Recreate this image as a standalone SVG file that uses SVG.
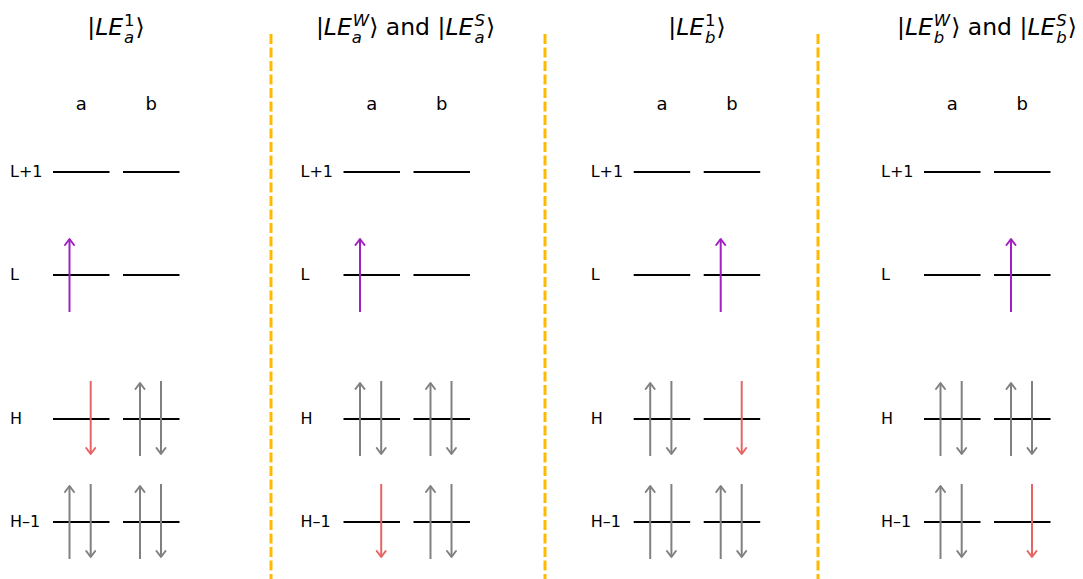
<svg xmlns="http://www.w3.org/2000/svg" width="1083" height="579" viewBox="0 0 1083 579">
<style>
text{font-family:"DejaVu Sans","Liberation Sans",sans-serif;fill:#000}
.title{font-size:23.5px}
.it{font-style:italic}
.ss{font-size:16.5px}
.col{font-size:18px;text-anchor:middle}
.lab{font-size:16px}
.lvl{stroke:#000;stroke-width:2}
.sep{stroke:#ffb900;stroke-width:3;stroke-dasharray:10 3.5}
.g{stroke:#808080;stroke-width:2;marker-end:url(#mg)}
.p{stroke:#a020c0;stroke-width:2;marker-end:url(#mp)}
.r{stroke:#e86464;stroke-width:2;marker-end:url(#mr)}
</style>
<defs>
<marker id="mg" markerUnits="userSpaceOnUse" orient="auto" markerWidth="14" markerHeight="14" refX="0" refY="0" viewBox="-8 -7 10 14" overflow="visible"><path d="M-6,-4.5 L0,0 L-6,4.5" fill="none" stroke="#808080" stroke-width="2" stroke-linejoin="round" stroke-linecap="round"/></marker>
<marker id="mp" markerUnits="userSpaceOnUse" orient="auto" markerWidth="14" markerHeight="14" refX="0" refY="0" viewBox="-8 -7 10 14" overflow="visible"><path d="M-6,-4.5 L0,0 L-6,4.5" fill="none" stroke="#a020c0" stroke-width="2" stroke-linejoin="round" stroke-linecap="round"/></marker>
<marker id="mr" markerUnits="userSpaceOnUse" orient="auto" markerWidth="14" markerHeight="14" refX="0" refY="0" viewBox="-8 -7 10 14" overflow="visible"><path d="M-6,-4.5 L0,0 L-6,4.5" fill="none" stroke="#e86464" stroke-width="2" stroke-linejoin="round" stroke-linecap="round"/></marker>
</defs>
<rect width="1083" height="579" fill="#fff"/>
<g id="separators">
<line class="sep" x1="271" y1="34" x2="271" y2="579"/>
<line class="sep" x1="545" y1="34" x2="545" y2="579"/>
<line class="sep" x1="818" y1="34" x2="818" y2="579"/>
</g>
<g id="panel1">
<text class="title" x="116" y="35" text-anchor="middle">|<tspan class="it">LE</tspan><tspan class="ss" dx="1" dy="-9.5">1</tspan><tspan class="ss it" dx="-10.49" dy="17">a</tspan><tspan dx="1.4" dy="-7.5">⟩</tspan></text>
<text class="col" x="81.3" y="110">a</text><text class="col" x="151.3" y="110">b</text>
<text class="lab" x="10" y="177">L+1</text><text class="lab" x="10" y="280">L</text><text class="lab" x="10" y="424">H</text><text class="lab" x="10" y="527">H–1</text>
<path class="lvl" d="M53,172H109.5M123,172H179.5M53,275H109.5M123,275H179.5M53,419H109.5M123,419H179.5M53,522H109.5M123,522H179.5"/>
</g>
<g id="panel2">
<text class="title" x="405.5" y="35" text-anchor="middle">|<tspan class="it">LE</tspan><tspan class="ss it" dx="1" dy="-9.5">W</tspan><tspan class="ss it" dx="-16.32" dy="17">a</tspan><tspan dx="7.2" dy="-7.5">⟩</tspan> and |<tspan class="it">LE</tspan><tspan class="ss it" dx="1" dy="-9.5">S</tspan><tspan class="ss it" dx="-10.48" dy="17">a</tspan><tspan dx="1.4" dy="-7.5">⟩</tspan></text>
<text class="col" x="371.8" y="110">a</text><text class="col" x="441.8" y="110">b</text>
<text class="lab" x="300.5" y="177">L+1</text><text class="lab" x="300.5" y="280">L</text><text class="lab" x="300.5" y="424">H</text><text class="lab" x="300.5" y="527">H–1</text>
<path class="lvl" d="M343.5,172H400M413.5,172H470M343.5,275H400M413.5,275H470M343.5,419H400M413.5,419H470M343.5,522H400M413.5,522H470"/>
</g>
<g id="panel3">
<text class="title" x="697" y="35" text-anchor="middle">|<tspan class="it">LE</tspan><tspan class="ss" dx="1" dy="-9.5">1</tspan><tspan class="ss it" dx="-10.49" dy="17">b</tspan><tspan dx="1" dy="-7.5">⟩</tspan></text>
<text class="col" x="662" y="110">a</text><text class="col" x="732" y="110">b</text>
<text class="lab" x="590.7" y="177">L+1</text><text class="lab" x="590.7" y="280">L</text><text class="lab" x="590.7" y="424">H</text><text class="lab" x="590.7" y="527">H–1</text>
<path class="lvl" d="M633.7,172H690.2M703.7,172H760.2M633.7,275H690.2M703.7,275H760.2M633.7,419H690.2M703.7,419H760.2M633.7,522H690.2M703.7,522H760.2"/>
</g>
<g id="panel4">
<text class="title" x="987" y="35" text-anchor="middle">|<tspan class="it">LE</tspan><tspan class="ss it" dx="1" dy="-9.5">W</tspan><tspan class="ss it" dx="-16.32" dy="17">b</tspan><tspan dx="6.8" dy="-7.5">⟩</tspan> and |<tspan class="it">LE</tspan><tspan class="ss it" dx="1" dy="-9.5">S</tspan><tspan class="ss it" dx="-10.48" dy="17">b</tspan><tspan dx="1" dy="-7.5">⟩</tspan></text>
<text class="col" x="952.3" y="110">a</text><text class="col" x="1022.3" y="110">b</text>
<text class="lab" x="881" y="177">L+1</text><text class="lab" x="881" y="280">L</text><text class="lab" x="881" y="424">H</text><text class="lab" x="881" y="527">H–1</text>
<path class="lvl" d="M924,172H980.5M994,172H1050.5M924,275H980.5M994,275H1050.5M924,419H980.5M994,419H1050.5M924,522H980.5M994,522H1050.5"/>
</g>
<g id="connectors">
<line class="p" x1="69.5" y1="312" x2="69.5" y2="239"/>
<line class="r" x1="90.7" y1="381" x2="90.7" y2="454"/>
<line class="g" x1="140" y1="456" x2="140" y2="383"/><line class="g" x1="161" y1="381" x2="161" y2="454"/>
<line class="g" x1="69.5" y1="559" x2="69.5" y2="486"/><line class="g" x1="90.7" y1="484" x2="90.7" y2="557"/>
<line class="g" x1="140" y1="559" x2="140" y2="486"/><line class="g" x1="161" y1="484" x2="161" y2="557"/>
<line class="p" x1="360" y1="312" x2="360" y2="239"/>
<line class="g" x1="360" y1="456" x2="360" y2="383"/><line class="g" x1="381.2" y1="381" x2="381.2" y2="454"/>
<line class="g" x1="430.5" y1="456" x2="430.5" y2="383"/><line class="g" x1="451.5" y1="381" x2="451.5" y2="454"/>
<line class="r" x1="381.2" y1="484" x2="381.2" y2="557"/>
<line class="g" x1="430.5" y1="559" x2="430.5" y2="486"/><line class="g" x1="451.5" y1="484" x2="451.5" y2="557"/>
<line class="p" x1="720.7" y1="312" x2="720.7" y2="239"/>
<line class="g" x1="650.2" y1="456" x2="650.2" y2="383"/><line class="g" x1="671.4" y1="381" x2="671.4" y2="454"/>
<line class="r" x1="741.7" y1="381" x2="741.7" y2="454"/>
<line class="g" x1="650.2" y1="559" x2="650.2" y2="486"/><line class="g" x1="671.4" y1="484" x2="671.4" y2="557"/>
<line class="g" x1="720.7" y1="559" x2="720.7" y2="486"/><line class="g" x1="741.7" y1="484" x2="741.7" y2="557"/>
<line class="p" x1="1011" y1="312" x2="1011" y2="239"/>
<line class="g" x1="940.5" y1="456" x2="940.5" y2="383"/><line class="g" x1="961.7" y1="381" x2="961.7" y2="454"/>
<line class="g" x1="1011" y1="456" x2="1011" y2="383"/><line class="g" x1="1032" y1="381" x2="1032" y2="454"/>
<line class="g" x1="940.5" y1="559" x2="940.5" y2="486"/><line class="g" x1="961.7" y1="484" x2="961.7" y2="557"/>
<line class="r" x1="1032" y1="484" x2="1032" y2="557"/>
</g>
</svg>
